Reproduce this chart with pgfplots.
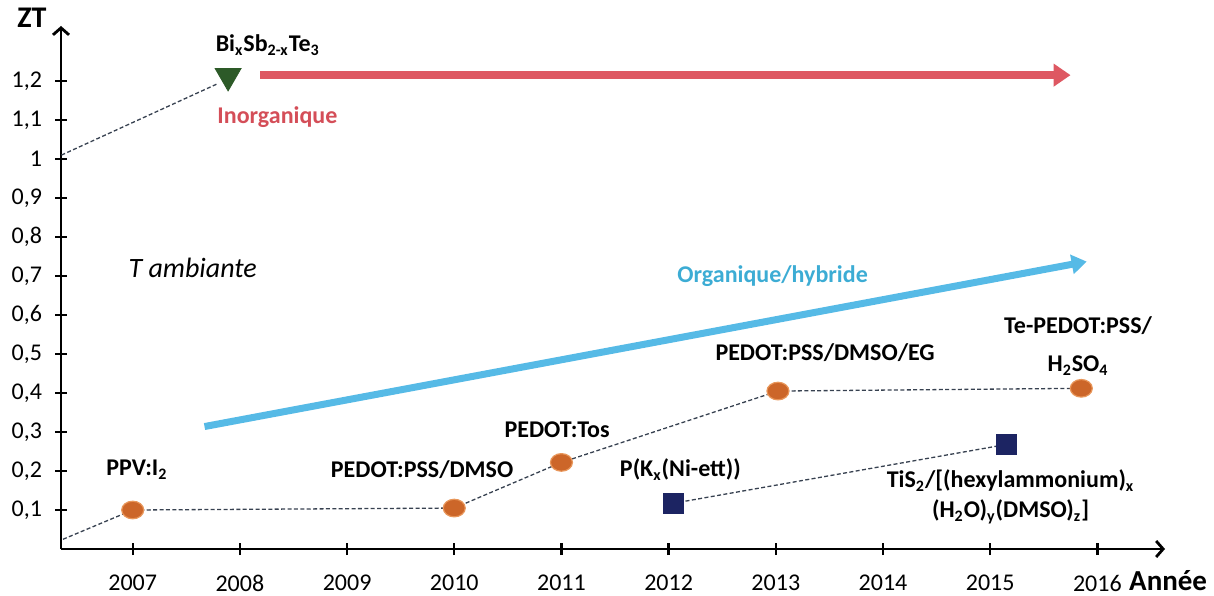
\documentclass[border=0pt]{standalone}
\usepackage{fontspec}
\setmainfont{Carlito}
\usepackage{pgfplots}
\pgfplotsset{compat=1.18}
\usetikzlibrary{arrows.meta}
\definecolor{orng}{RGB}{204,102,41}
\definecolor{orngedge}{RGB}{232,150,90}
\definecolor{navy}{RGB}{28,36,98}
\definecolor{dgreen}{RGB}{45,90,40}
\definecolor{redar}{RGB}{222,88,98}
\definecolor{redtxt}{RGB}{212,78,88}
\definecolor{bluear}{RGB}{86,186,230}
\definecolor{bluetxt}{RGB}{60,172,212}
\definecolor{dashc}{RGB}{55,65,80}
\tikzset{lbl/.style={font=\bfseries\fontsize{12}{14}\selectfont, inner sep=0pt}}
\begin{document}
\begin{tikzpicture}
\path[use as bounding box] (0,0) rectangle (607pt,297.5pt);
\begin{axis}[
  at={(30.5pt,23pt)}, anchor=south west,
  scale only axis, width=552pt, height=261.5pt,
  xmin=2006.331, xmax=2016.631, ymin=0, ymax=1.341,
  axis lines=left, clip=false,
  axis line style={line width=1.2pt, -{Straight Barb[length=3.5pt,width=8pt,line width=1.4pt]}},
  tick style={line width=1.2pt, black},
  major tick length=6pt, tick align=center,
  xtick={2007,2008,2009,2010,2011,2012,2013,2014,2015,2016},
  xticklabels={2007,2008,2009,2010,2011,2012,2013,2014,2015,2016},
  ytick={0.1,0.2,0.3,0.4,0.5,0.6,0.7,0.8,0.9,1.0,1.1,1.2},
  /pgf/number format/fixed, /pgf/number format/precision=1,
  /pgf/number format/use comma, /pgf/number format/assume math mode=true,
  ticklabel style={font=\fontsize{12}{14}\selectfont},
  xticklabel style={yshift=-6.5pt},
  yticklabel style={xshift=-3pt},
]
% dashed connecting lines
\addplot[dashc, dash pattern=on 2pt off 1.2pt, line width=0.65pt] coordinates {(2006.35,0.025)(2007,0.1)(2010,0.105)(2011,0.222)(2013.02,0.405)(2015.85,0.412)};
\addplot[dashc, dash pattern=on 2pt off 1.2pt, line width=0.65pt] coordinates {(2006.335,1.01)(2007.80,1.194)};
\addplot[dashc, dash pattern=on 2pt off 1.2pt, line width=0.65pt] coordinates {(2012.04,0.117)(2015.15,0.268)};
% trend arrows
\addplot[redar, line width=4pt, -{Triangle[length=8.5pt,width=11pt]}] coordinates {(2008.19,1.215)(2015.75,1.215)};
\addplot[bluear, line width=3.5pt, -{Triangle[length=7.5pt,width=9.5pt]}] coordinates {(2007.67,0.314)(2015.90,0.737)};
% markers
\addplot[only marks, mark=*, mark size=4.4pt, mark options={xscale=1.25, fill=orng, draw=orngedge, line width=0.6pt}] coordinates {(2007,0.1)(2010,0.105)(2011,0.222)(2013.02,0.405)(2015.85,0.412)};
\addplot[only marks, mark=square*, mark size=5pt, mark options={fill=navy, draw=navy}] coordinates {(2012.04,0.117)(2015.15,0.268)};
\addplot[only marks, mark=triangle*, mark size=7.5pt, mark options={rotate=180, fill=dgreen, draw=dgreen}] coordinates {(2007.89,1.213)};
% labels
\node[font=\bfseries\fontsize{15}{16}\selectfont, inner sep=0pt] at (axis cs:2006.06,1.362) {ZT};
\node[font=\bfseries\fontsize{14.5}{16}\selectfont, inner sep=0pt] at (axis cs:2016.66,-0.080) {Année};
\node[lbl] at (axis cs:2008.26,1.292) {Bi\textsubscript{x}Sb\textsubscript{2-x}Te\textsubscript{3}};
\node[lbl, text=redtxt] at (axis cs:2008.35,1.108) {Inorganique};
\node[font=\itshape\fontsize{14}{16}\selectfont, inner sep=0pt] at (axis cs:2007.56,0.72) {T ambiante};
\node[lbl, text=bluetxt] at (axis cs:2012.97,0.70) {Organique/hybride};
\node[lbl, align=center, font=\bfseries\fontsize{12}{19}\selectfont] at (axis cs:2015.82,0.52) {Te-PEDOT:PSS/\\H\textsubscript{2}SO\textsubscript{4}};
\node[lbl] at (axis cs:2013.46,0.503) {PEDOT:PSS/DMSO/EG};
\node[lbl] at (axis cs:2010.96,0.305) {PEDOT:Tos};
\node[lbl] at (axis cs:2009.70,0.203) {PEDOT:PSS/DMSO};
\node[lbl] at (axis cs:2007.04,0.203) {PPV:I\textsubscript{2}};
\node[lbl] at (axis cs:2012.11,0.203) {P(K\textsubscript{x}(Ni-ett))};
\node[lbl, align=center, font=\bfseries\fontsize{12}{15}\selectfont] at (axis cs:2015.19,0.133) {TiS\textsubscript{2}/[(hexylammonium)\textsubscript{x}\\(H\textsubscript{2}O)\textsubscript{y}(DMSO)\textsubscript{z}]};
\end{axis}
\end{tikzpicture}
\end{document}
